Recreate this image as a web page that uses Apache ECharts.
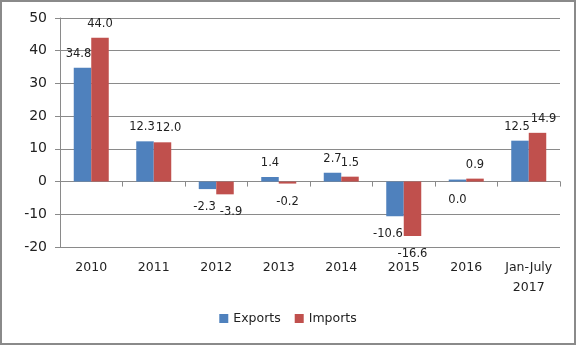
<!DOCTYPE html>
<html><head><meta charset="utf-8">
<script src="https://cdn.jsdelivr.net/npm/echarts@6/dist/echarts.min.js"></script>
<style>html,body{margin:0;padding:0;background:#fff}#c{width:576px;height:346px}</style>
</head><body><div id="c"></div>
<script>
var categories = ['2010','2011','2012','2013','2014','2015','2016','Jan-July\n2017'];
var exportsData = [34.8, 12.3, -2.3, 1.4, 2.7, -10.6, 0.0, 12.5];
var importsData = [44.0, 12.0, -3.9, -0.2, 1.5, -16.6, 0.9, 14.9];

var PX_PER_UNIT = 229 / 70;
// Mimic Excel nudging of colliding data labels
function labelShift(i, isExport){
  var e = exportsData[i], m = importsData[i];
  var sameSide = (e > 0) === (m > 0);
  var eText = e.toFixed(1), mText = m.toFixed(1);
  if (sameSide && Math.abs(e - m) * PX_PER_UNIT < 14 && eText.length >= 4 && mText.length >= 4) {
    return isExport ? -3 : 6;
  }
  if (isExport && sameSide && Math.abs(m) > Math.abs(e) && Math.abs(m - e) * PX_PER_UNIT > 14) {
    return e > 0 ? -4 : -7;
  }
  return 0;
}
function toItems(arr, isExport){
  return arr.map(function(v, i){
    var below = v <= 0;
    return {value: v, label: {position: below ? 'bottom' : 'top', distance: below ? 12 : 8,
      offset: [labelShift(i, isExport), 0]}};
  });
}
var font = 'DejaVu Sans';
var chart = echarts.init(document.getElementById('c'), null, {renderer:'canvas'});
chart.setOption({
  animation: false,
  textStyle: {fontFamily: font},
  graphic: [{type:'rect', shape:{x:1,y:1,width:574,height:343}, style:{fill:'none', stroke:'#8a8a8a', lineWidth:2}, silent:true}],
  grid: {left: 60, right: 16, top: 18, bottom: 99, containLabel: false},
  legend: {bottom: 16, left: 'center', itemWidth: 9, itemHeight: 9, itemGap: 14, icon: 'rect',
    textStyle: {fontFamily: font, fontSize: 12.5, color: '#222'},
    data: ['Exports','Imports']},
  xAxis: [{
    type: 'category', data: categories,
    axisLine: {show: false, onZero: false},
    axisTick: {show: false},
    axisLabel: {fontFamily: font, fontSize: 12.5, color: '#222', margin: 11, lineHeight: 20, interval: 0}
  },{
    type: 'category', data: categories, position: 'bottom',
    axisLine: {show: true, onZero: true, lineStyle: {color: '#8a8a8a', width: 1}},
    axisTick: {show: true, length: 5, inside: false, lineStyle: {color: '#8a8a8a'}},
    axisLabel: {show: false}
  }],
  yAxis: {
    type: 'value', min: -20, max: 50, interval: 10,
    axisLine: {show: true, lineStyle: {color: '#8a8a8a'}},
    axisTick: {show: true, length: 5, lineStyle: {color: '#8a8a8a'}},
    splitLine: {show: true, lineStyle: {color: '#8a8a8a', width: 1}},
    axisLabel: {fontFamily: font, fontSize: 14, color: '#222', margin: 13}
  },
  series: [{
    name: 'Exports', type: 'bar', xAxisIndex: 0, data: toItems(exportsData, true),
    barWidth: 17.5, barGap: '0%', barMinHeight: 2,
    itemStyle: {color: '#4f81bd'},
    label: {show: true, fontFamily: font, fontSize: 11.5, color: '#222',
      formatter: function(p){ return p.value.toFixed(1); }}
  },{
    name: 'Imports', type: 'bar', xAxisIndex: 0, data: toItems(importsData, false),
    barWidth: 17.5, barGap: '0%', barMinHeight: 2,
    itemStyle: {color: '#c0504d'},
    label: {show: true, fontFamily: font, fontSize: 11.5, color: '#222',
      formatter: function(p){ return p.value.toFixed(1); }}
  }]
});
</script></body></html>
